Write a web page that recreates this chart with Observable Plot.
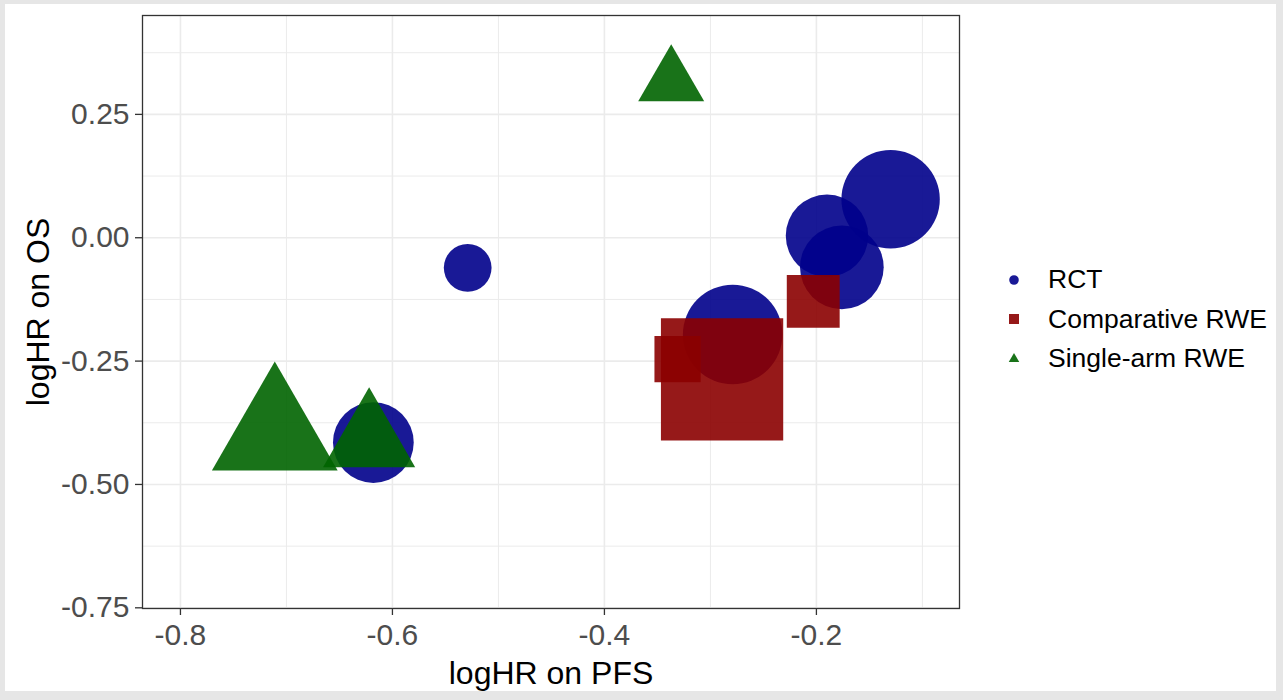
<!DOCTYPE html>
<html><head><meta charset="utf-8">
<script src="https://cdn.jsdelivr.net/npm/d3@7"></script>
<script src="https://cdn.jsdelivr.net/npm/@observablehq/plot@0.6"></script>
<style>
html,body{margin:0;padding:0;overflow:hidden;background:#e6e6e6;width:1283px;height:700px;}
#page{position:absolute;left:5px;top:4px;width:1271px;height:687px;background:#fff;}
#chart{position:absolute;left:0;top:0;}
#legend{position:absolute;left:1000px;top:260px;font-family:"Liberation Sans",Arial,sans-serif;font-size:26.5px;color:#000;}
.item{display:flex;align-items:center;height:39.5px;}
.item svg{flex:none;}
</style></head><body>
<div id="page"></div><div id="chart"></div><div id="legend"></div>
<script>
// Categories
const groups = ["RCT", "Comparative RWE", "Single-arm RWE"];
// Study type per point
const studyGroup = ["RCT","RCT","RCT","RCT","RCT","RCT",
                    "Comparative RWE","Comparative RWE","Comparative RWE",
                    "Single-arm RWE","Single-arm RWE","Single-arm RWE"];
// logHR on PFS
const logHRpfs = [-0.529, -0.618, -0.279, -0.190, -0.176, -0.130,
                  -0.331, -0.289, -0.203,
                  -0.337, -0.711, -0.622];
// logHR on OS
const logHRos  = [-0.061, -0.415, -0.196, 0.004, -0.060, 0.078,
                  -0.246, -0.287, -0.129,
                  0.315, -0.398, -0.411];
// study weight (mapped to symbol area)
const weight   = [5.7, 16.3, 24.8, 17.0, 17.5, 24.2,
                  6.8, 47.6, 8.9,
                  6.0, 21.8, 11.7];
// Tick values / labels
const xTicks = [-0.8, -0.6, -0.4, -0.2];
const xMinor = [-0.7, -0.5, -0.3, -0.1];
const yTicks = [0.25, 0, -0.25, -0.5, -0.75];
const yMinor = [0.375, 0.125, -0.125, -0.375, -0.625];
const xTitle = "logHR on PFS";
const yTitle = "logHR on OS";

const colors = ["#00008b", "#8b0000", "#006400"];
const symbols = ["circle", "square", "triangle"];

const rows = studyGroup.map((g, i) => ({group: g, pfs: logHRpfs[i], os: logHRos[i], w: weight[i]}));

const grid = {stroke: "#ebebeb", strokeOpacity: 1};
const plot = Plot.plot({
  width: 1283, height: 700,
  marginLeft: 142, marginRight: 324, marginTop: 15, marginBottom: 92,
  style: {background: "transparent", fontFamily: "'Liberation Sans', Arial, sans-serif", overflow: "visible"},
  x: {domain: [-0.8358, -0.065]},
  y: {domain: [-0.7514, 0.4504]},
  r: {type: "sqrt", domain: [0, 100], range: [0, 100]},
  symbol: {domain: groups, range: symbols},
  color: {domain: groups, range: colors},
  marks: [
    Plot.gridX(xMinor, {...grid, strokeWidth: 1}),
    Plot.gridY(yMinor, {...grid, strokeWidth: 1}),
    Plot.gridX(xTicks, {...grid, strokeWidth: 1.6}),
    Plot.gridY(yTicks, {...grid, strokeWidth: 1.6}),
    Plot.dot(rows, {x: "pfs", y: "os", r: "w", symbol: "group", fill: "group", fillOpacity: 0.9, stroke: null, sort: null}),
    Plot.frame({stroke: "#333333", strokeWidth: 1.3}),
    Plot.axisX({ticks: xTicks, tickFormat: d => d.toFixed(1), label: null, tickSize: 7, tickPadding: 8, fontSize: 30, stroke: "#333333", fill: "#4d4d4d", strokeWidth: 1.3}),
    Plot.axisY({ticks: yTicks, tickFormat: d => d.toFixed(2), label: null, tickSize: 7, tickPadding: 6, fontSize: 30, stroke: "#333333", fill: "#4d4d4d", strokeWidth: 1.3}),
    Plot.text([xTitle], {text: d => d, frameAnchor: "bottom", lineAnchor: "middle", textAnchor: "middle", dy: 65, fontSize: 32, fill: "#000"}),
    Plot.text([yTitle], {text: d => d, frameAnchor: "left", lineAnchor: "middle", textAnchor: "middle", rotate: -90, dx: -104, fontSize: 32, fill: "#000"})
  ]
});
document.getElementById("chart").appendChild(plot);

// Legend (keys drawn in the same colours / symbols as the marks)
const legend = document.getElementById("legend");
groups.forEach((g, i) => {
  const item = document.createElement("div");
  item.className = "item";
  const ns = "http://www.w3.org/2000/svg";
  const svg = document.createElementNS(ns, "svg");
  svg.setAttribute("width", 48); svg.setAttribute("height", 24);
  const p = document.createElementNS(ns, "path");
  const sym = {circle: d3.symbolCircle, square: d3.symbolSquare, triangle: d3.symbolTriangle}[symbols[i]];
  const size = {circle: 72, square: 100, triangle: 48}[symbols[i]];
  p.setAttribute("d", d3.symbol(sym, size)());
  p.setAttribute("transform", "translate(14,12)");
  p.setAttribute("fill", colors[i]);
  p.setAttribute("fill-opacity", 0.9);
  svg.appendChild(p);
  const t = document.createElement("span");
  t.textContent = g;
  item.appendChild(svg); item.appendChild(t);
  legend.appendChild(item);
});
</script></body></html>
